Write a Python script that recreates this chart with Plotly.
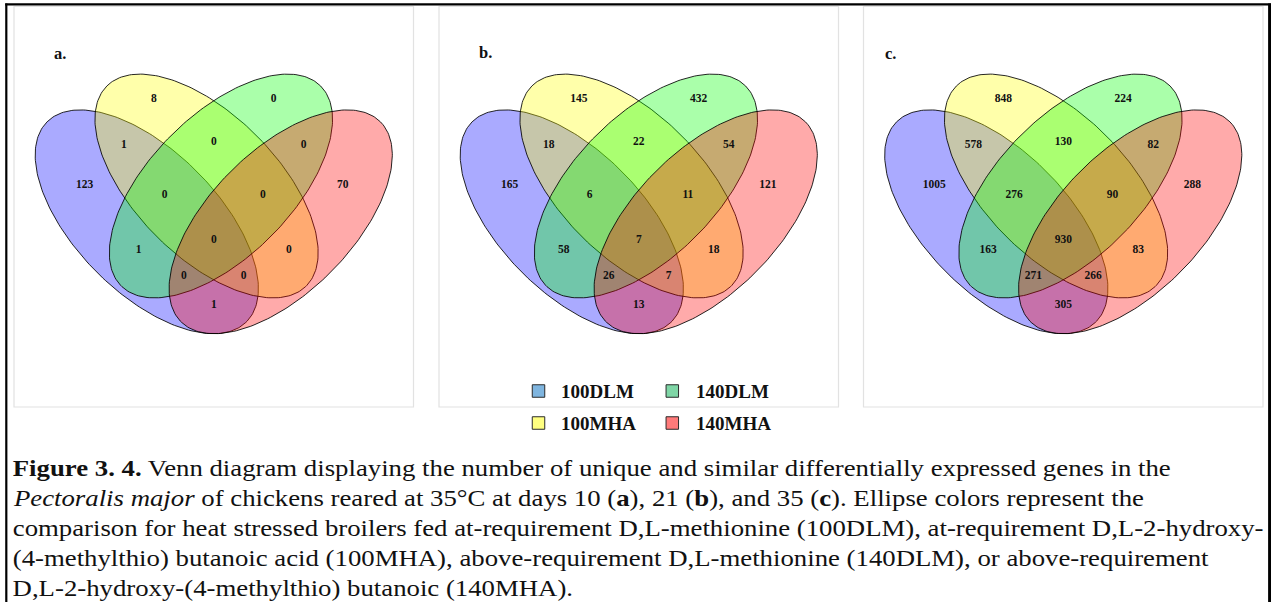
import numpy as np
import plotly.graph_objects as go

# Treatment groups (ellipse order: 100DLM, 100MHA, 140DLM, 140MHA)
groups = ["100DLM", "100MHA", "140DLM", "140MHA"]

# Venn regions, named by the groups they belong to
regions = [
    "100DLM", "100MHA", "140DLM", "140MHA",
    "100DLM&100MHA", "100MHA&140DLM", "140DLM&140MHA",
    "100DLM&100MHA&140DLM", "100MHA&140DLM&140MHA",
    "100DLM&100MHA&140DLM&140MHA",
    "100DLM&140DLM", "100MHA&140MHA",
    "100DLM&140DLM&140MHA", "100DLM&100MHA&140MHA",
    "100DLM&140MHA",
]

# Differentially expressed genes per region
day10 = [123, 8, 0, 70, 1, 0, 0, 0, 0, 0, 1, 0, 0, 0, 1]
day21 = [165, 145, 432, 121, 18, 22, 54, 6, 11, 7, 58, 18, 26, 7, 13]
day35 = [1005, 848, 224, 288, 578, 130, 82, 276, 90, 930, 163, 83, 271, 266, 305]

panel_titles = ["a.", "b.", "c."]
legend_order = ["100DLM", "140DLM", "100MHA", "140MHA"]

# ---------------------------------------------------------------- layout
W, H = 1271, 602

# panel frames in pixels: (left, right), shared top/bottom
panel_x = [(14.0, 413.5), (439.0, 838.5), (863.5, 1263.0)]
panel_top, panel_bottom = 6.5, 407.0
title_xy = [(52.0, 53.0), (476.7, 52.5), (882.7, 53.0)]

# ellipse geometry in unit Venn coordinates (y up)
ell_a, ell_b = 0.353, 0.1775
ellipse_geom = {
    "100DLM": (0.3324, 0.4624, 135),
    "100MHA": (0.4820, 0.5518, 135),
    "140DLM": (0.5180, 0.5518, 45),
    "140MHA": (0.6676, 0.4624, 45),
}
ellipse_fill = {
    "100DLM": "rgba(0,0,255,0.333)",
    "100MHA": "rgba(255,255,0,0.333)",
    "140DLM": "rgba(0,255,0,0.333)",
    "140MHA": "rgba(255,0,0,0.333)",
}

# label anchor of every region in unit Venn coordinates
label_pos = {
    "100DLM": (0.177, 0.555),
    "100MHA": (0.350, 0.7675),
    "140DLM": (0.650, 0.7675),
    "140MHA": (0.823, 0.555),
    "100DLM&100MHA": (0.275, 0.655),
    "100MHA&140DLM": (0.500, 0.6625),
    "140DLM&140MHA": (0.725, 0.655),
    "100DLM&100MHA&140DLM": (0.377, 0.530),
    "100MHA&140DLM&140MHA": (0.623, 0.530),
    "100DLM&100MHA&140DLM&140MHA": (0.500, 0.4175),
    "100DLM&140DLM": (0.312, 0.3925),
    "100MHA&140MHA": (0.688, 0.3925),
    "100DLM&140DLM&140MHA": (0.425, 0.3275),
    "100DLM&100MHA&140MHA": (0.575, 0.3275),
    "100DLM&140MHA": (0.500, 0.255),
}

legend_color = {
    "100DLM": "#7fb5df",
    "140DLM": "#7fd6a6",
    "100MHA": "#ffff80",
    "140MHA": "#ff7a7a",
}
legend_marker_x = [538.5, 672.3]
legend_text_x = [559.0, 693.5]
legend_row_y = [391.0, 423.0]

serif = "Liberation Serif, Times New Roman, serif"

caption_lines = [
    "<b>Figure 3. 4.</b> Venn diagram displaying the number of unique and similar differentially expressed genes in the",
    "<i>Pectoralis major</i> of chickens reared at 35°C at days 10 (<b>a</b>), 21 (<b>b</b>), and 35 (<b>c</b>). Ellipse colors represent the",
    "comparison for heat stressed broilers fed at-requirement D,L-methionine (100DLM), at-requirement D,L-2-hydroxy-",
    "(4-methylthio) butanoic acid (100MHA), above-requirement D,L-methionine (140DLM), or above-requirement",
    "D,L-2-hydroxy-(4-methylthio) butanoic (140MHA).",
]
caption_x = 9.5
caption_size = 22.5
caption_stretch = 1.19      # caption type is set slightly wide
caption_baseline = [476.0, 506.0, 536.0, 566.0, 596.0]


def ellipse_xy(cx, cy, a, b, rot_deg, n=240):
    t = np.linspace(0, 2 * np.pi, n)
    r = np.deg2rad(rot_deg)
    x = cx + a * np.cos(t) * np.cos(r) - b * np.sin(t) * np.sin(r)
    y = cy + a * np.cos(t) * np.sin(r) + b * np.sin(t) * np.cos(r)
    return x, y


fig = go.Figure()

layout_axes = {}
for i, counts in enumerate([day10, day21, day35]):
    n = i + 1
    xa, ya = ("x" if n == 1 else f"x{n}"), ("y" if n == 1 else f"y{n}")
    left, right = panel_x[i]
    layout_axes["xaxis" if n == 1 else f"xaxis{n}"] = dict(
        domain=[left / W, right / W], range=[0, 1], visible=False,
        fixedrange=True, anchor=ya)
    layout_axes["yaxis" if n == 1 else f"yaxis{n}"] = dict(
        domain=[(H - panel_bottom) / H, (H - panel_top) / H], range=[0, 1],
        visible=False, fixedrange=True, anchor=xa)

    for g in groups:
        cx, cy, rot = ellipse_geom[g]
        ex, ey = ellipse_xy(cx, cy, ell_a, ell_b, rot)
        fig.add_trace(go.Scatter(
            x=ex, y=ey, xaxis=xa, yaxis=ya, mode="lines", fill="toself",
            fillcolor=ellipse_fill[g], line=dict(color="rgba(0,0,0,0.85)", width=1),
            hoverinfo="skip", showlegend=False))

    fig.add_trace(go.Scatter(
        x=[label_pos[r][0] for r in regions],
        y=[label_pos[r][1] for r in regions],
        text=[str(v) for v in counts],
        mode="text", xaxis=xa, yaxis=ya,
        textfont=dict(family=serif, size=11.5, color="#111111", weight="bold"),
        hoverinfo="skip", showlegend=False))

# full-figure pixel axis for frames, legend and caption
layout_axes["xaxis4"] = dict(domain=[0, 1], range=[0, W], visible=False,
                             fixedrange=True, anchor="y4")
layout_axes["yaxis4"] = dict(domain=[0, 1], range=[H, 0], visible=False,
                             fixedrange=True, anchor="x4")

legend_xy = []
for k, g in enumerate(legend_order):
    legend_xy.append((legend_marker_x[k % 2], legend_row_y[k // 2]))
fig.add_trace(go.Scatter(
    x=[p[0] for p in legend_xy], y=[p[1] for p in legend_xy],
    xaxis="x4", yaxis="y4", mode="markers",
    marker=dict(symbol="square", size=12.5,
                color=[legend_color[g] for g in legend_order],
                line=dict(color="#2a2a2a", width=1)),
    hoverinfo="skip", showlegend=False))

annotations = []
for k, g in enumerate(legend_order):
    annotations.append(dict(
        x=legend_text_x[k % 2], y=legend_row_y[k // 2] + 0.5, xref="x4", yref="y4",
        text=f"<b>{g}</b>", showarrow=False, xanchor="left", yanchor="middle",
        font=dict(family=serif, size=19, color="#111111")))

for i, t in enumerate(panel_titles):
    annotations.append(dict(
        x=title_xy[i][0], y=title_xy[i][1], xref="x4", yref="y4",
        text=f"<b>{t}</b>", showarrow=False, xanchor="left", yanchor="middle",
        font=dict(family=serif, size=16.5, color="#111111")))

caption_index = []
for line, base in zip(caption_lines, caption_baseline):
    caption_index.append(len(annotations))
    annotations.append(dict(
        x=caption_x, y=base - 0.33 * caption_size, xref="x4", yref="y4", text=line,
        showarrow=False, xanchor="left", yanchor="middle",
        font=dict(family=serif, size=caption_size, color="#111111")))

shapes = []
for left, right in panel_x:
    shapes.append(dict(type="rect", xref="x4", yref="y4", x0=left, x1=right,
                       y0=panel_top, y1=panel_bottom, layer="below",
                       line=dict(color="#e2e2e2", width=1.2)))
# outer frame
shapes.append(dict(type="line", xref="x4", yref="y4", x0=6.3, x1=6.3, y0=3.5, y1=H + 5,
                   line=dict(color="black", width=2.2)))
shapes.append(dict(type="line", xref="x4", yref="y4", x0=5.2, x1=W + 5, y0=4.4, y1=4.4,
                   line=dict(color="black", width=2.2)))
shapes.append(dict(type="line", xref="x4", yref="y4", x0=1269.6, x1=1269.6, y0=3.5, y1=H + 5,
                   line=dict(color="black", width=3)))

fig.update_layout(
    width=W, height=H, margin=dict(l=0, r=0, t=0, b=0),
    paper_bgcolor="white", plot_bgcolor="rgba(0,0,0,0)",
    annotations=annotations, shapes=shapes, showlegend=False,
    **layout_axes)

# widen the caption lines horizontally around their left edge
css = "".join(
    f'g.annotation[data-index="{i}"]{{transform-origin:{caption_x}px 0px;'
    f'transform:scaleX({caption_stretch});}}'
    for i in caption_index)
post_js = (
    "var s=document.createElement('style');"
    f"s.textContent='{css}';"
    "document.head.appendChild(s);"
)

fig.write_html("out.html", config={"displayModeBar": False}, post_script=post_js)
